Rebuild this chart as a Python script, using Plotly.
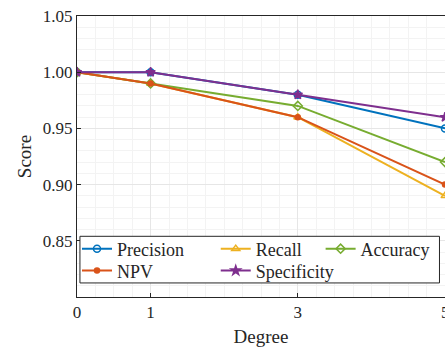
import plotly.graph_objects as go

degree = [0, 1, 3, 5]
precision = [1.00, 1.00, 0.98, 0.95]
recall = [1.00, 0.99, 0.96, 0.89]
accuracy = [1.00, 0.99, 0.97, 0.92]
npv = [1.00, 0.99, 0.96, 0.90]
specificity = [1.00, 1.00, 0.98, 0.96]

x_ticks = [0, 1, 3, 5]
y_ticks = [0.85, 0.90, 0.95, 1.00, 1.05]

# (name, values, colour, marker, legend slot)
series = [
    ("Precision", precision, "#0072BD", "circle-open", "legend"),
    ("Recall", recall, "#EDB120", "triangle-up-open", "legend2"),
    ("Accuracy", accuracy, "#77AC30", "diamond-open", "legend3"),
    ("NPV", npv, "#D95319", "circle", "legend4"),
    ("Specificity", specificity, "#7E2F8E", "star", "legend5"),
]

fig = go.Figure()
for name, vals, col, sym, leg in series:
    size = 5 if sym == "circle" else 7
    fig.add_trace(go.Scatter(
        x=degree, y=vals, name=name, mode="lines+markers", legend=leg,
        line=dict(color=col, width=2),
        marker=dict(symbol=sym, size=size, color=col, line=dict(color=col, width=1.5)),
    ))

font = "Liberation Serif, DejaVu Serif, serif"
leg_common = dict(
    orientation="v", yanchor="middle", xanchor="left",
    bgcolor="rgba(0,0,0,0)", borderwidth=0, tracegroupgap=0, itemwidth=30,
    font=dict(family=font, size=18, color="#262626"),
)
row1, row2 = 0.171, 0.093
col1, col2, col3 = 0.0, 0.377, 0.662
fig.update_layout(
    width=445, height=350,
    margin=dict(l=77, r=0, t=16, b=53),
    paper_bgcolor="white", plot_bgcolor="white",
    font=dict(family=font, size=17, color="#262626"),
    showlegend=True,
    legend=dict(x=col1, y=row1, **leg_common),
    legend2=dict(x=col2, y=row1, **leg_common),
    legend3=dict(x=col3, y=row1, **leg_common),
    legend4=dict(x=col1, y=row2, **leg_common),
    legend5=dict(x=col2, y=row2, **leg_common),
    xaxis=dict(
        range=[0, 5], tickvals=x_ticks, ticktext=[str(v) for v in x_ticks],
        showgrid=True, gridcolor="#e6e6e6", gridwidth=1,
        minor=dict(dtick=0.25, showgrid=True, gridcolor="#f3f3f3", ticks=""),
        showline=True, linecolor="#262626", linewidth=1, mirror=True,
        ticks="inside", ticklen=4, tickcolor="#262626",
        zeroline=False, automargin=False,
        title=dict(text="Degree", font=dict(size=19), standoff=8),
    ),
    yaxis=dict(
        range=[0.80, 1.05], tickvals=y_ticks, ticktext=[f"{v:.2f}" for v in y_ticks],
        showgrid=True, gridcolor="#e6e6e6", gridwidth=1,
        minor=dict(dtick=0.01, showgrid=True, gridcolor="#f3f3f3", ticks=""),
        showline=True, linecolor="#262626", linewidth=1, mirror=True,
        ticks="inside", ticklen=4, tickcolor="#262626",
        zeroline=False, automargin=False,
        title=dict(text="Score", font=dict(size=19), standoff=6),
    ),
)

# legend frame: white fill, then an outline on top
box = dict(x0=0.008, x1=0.985, y0=0.05, y1=0.216)
fig.add_shape(type="rect", xref="paper", yref="paper", **box,
              line=dict(width=0), fillcolor="white", layer="above")
fig.add_shape(type="rect", xref="paper", yref="paper", **box,
              line=dict(color="#262626", width=1), fillcolor="rgba(0,0,0,0)",
              layer="above")

# last x tick label sits on the clipped right edge; draw it as data-anchored text
fig.add_annotation(x=x_ticks[-1], y=0, xref="x", yref="paper", yanchor="top",
                   yshift=-4, text=str(x_ticks[-1]), showarrow=False,
                   font=dict(family=font, size=17, color="#262626"))

fig.write_html("out.html", config={"displayModeBar": False},
               post_script="document.body.style.margin='0';document.body.style.overflow='hidden';")
